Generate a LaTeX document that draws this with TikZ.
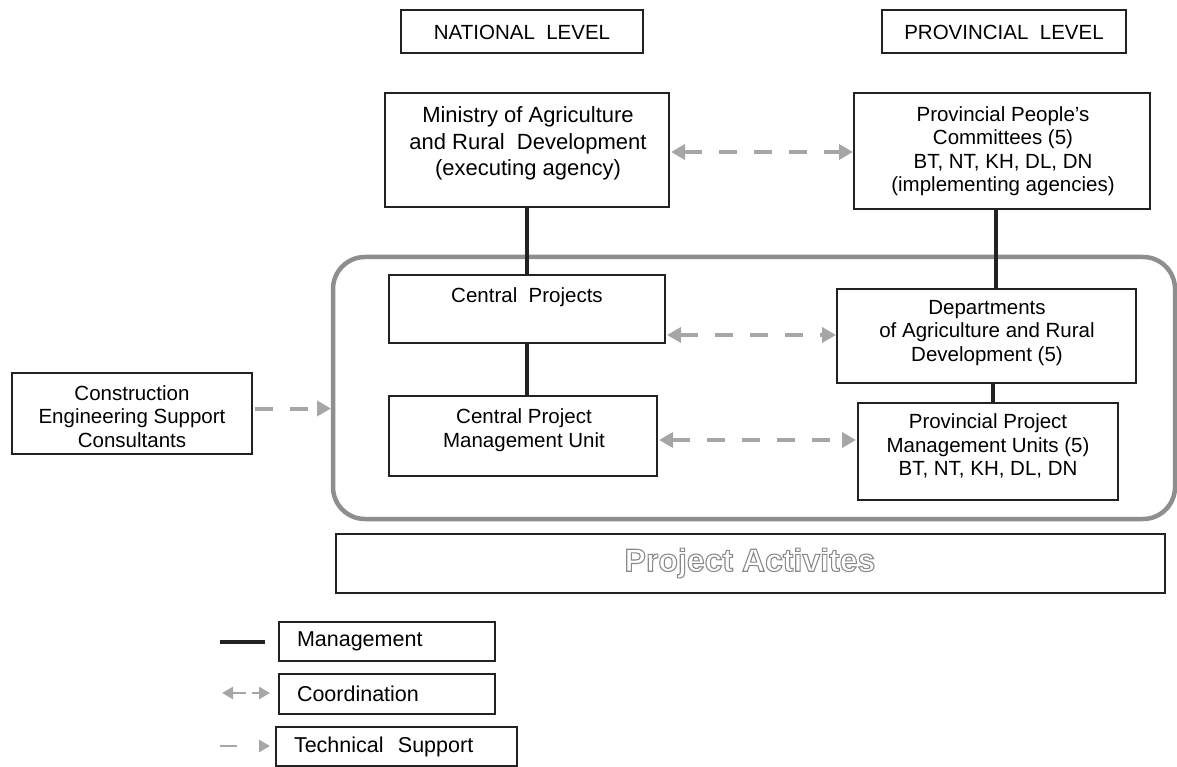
\documentclass[tikz,border=0pt]{standalone}
\usepackage{fontspec}
\setmainfont{Liberation Sans}
\usetikzlibrary{arrows.meta}
\definecolor{arrowgray}{HTML}{A6A6A6}
\definecolor{framegray}{HTML}{8E8E8E}
\definecolor{linek}{HTML}{222222}
\definecolor{outlinegray}{HTML}{8A8A8A}
\begin{document}
\begin{tikzpicture}[x=1pt,y=-1pt,
  box/.style={draw=linek,line width=1.4pt,inner sep=0pt,outer sep=0pt,fill=white},
  txt/.style={align=center,inner sep=0pt,font=\fontsize{20.5}{23.5}\selectfont},
  bigtxt/.style={align=center,inner sep=0pt,font=\fontsize{22}{26.5}\selectfont},
  legtxt/.style={box,align=left,inner xsep=18pt,font=\fontsize{21.5}{25}\selectfont},
  mgmt/.style={draw=linek,line width=4pt},
  coord/.style={draw=arrowgray,line width=4pt,dash pattern=on 18pt off 17pt,
    {Triangle[length=14pt,width=15pt]}-{Triangle[length=14pt,width=15pt]}},
  tech/.style={draw=arrowgray,line width=4pt,dash pattern=on 18pt off 17pt,
    -{Triangle[length=14pt,width=15pt]}}
]
\useasboundingbox (0,0) rectangle (1177,767);

% frame of project activities
\node[draw=framegray,line width=4.5pt,rounded corners=32pt,inner sep=0pt,outer sep=0pt,
  minimum width=842pt,minimum height=262pt] (frame) at (754,388) {};

% level headers
\node[box,minimum width=242pt,minimum height=43pt] (natl) at (522,31.5) {};
\node[txt] (natlt) at (522,32) {NATIONAL\ \ LEVEL};
\node[box,minimum width=244pt,minimum height=43pt] (provl) at (1004,31.5) {};
\node[txt] (provlt) at (1004,32) {PROVINCIAL\ \ LEVEL};

% national side
\node[box,minimum width=284pt,minimum height=114pt] (min) at (527,150) {};
\node[bigtxt] (mint) at (528,143.5) {Ministry of Agriculture\\and Rural\ \ Development\\(executing agency)};
\node[box,minimum width=276pt,minimum height=68pt] (cp) at (527,309) {};
\node[txt] (cpt) at (527,297) {Central\ \ Projects};
\node[box,minimum width=268pt,minimum height=80pt] (cpmu) at (523,436) {};
\node[txt] (cpmut) at (524,430) {Central Project\\Management Unit};

% provincial side
\node[box,minimum width=296pt,minimum height=116pt] (ppc) at (1002,151) {};
\node[txt] (ppct) at (1003,151) {Provincial People's\\Committees (5)\\BT, NT, KH, DL, DN\\(implementing agencies)};
\node[box,minimum width=299pt,minimum height=94pt] (dept) at (986.5,336) {};
\node[txt] (deptt) at (987,333) {Departments\\of Agriculture and Rural\\Development (5)};
\node[box,minimum width=260pt,minimum height=97pt] (ppmu) at (988,451.5) {};
\node[txt] (ppmut) at (988,446) {Provincial Project\\Management Units (5)\\BT, NT, KH, DL, DN};

% consultants
\node[box,minimum width=240pt,minimum height=81pt] (cons) at (132,413.5) {};
\node[txt] (const) at (132,416.5) {Construction\\Engineering Support\\Consultants};

% project activities
\node[box,minimum width=829pt,minimum height=59pt] (act) at (750.5,563.5) {};
\node[inner sep=0pt,text=outlinegray,font=\fontsize{32}{34}\selectfont\bfseries] (actt) at (750,563)
  {\special{pdf:literal direct 1 Tr 1.1 w}Project Activites\special{pdf:literal direct 0 Tr}};

% management lines
\draw[mgmt] (min.south) -- (cp.north);
\draw[mgmt] (cp.south) -- (cp.south |- cpmu.north);
\draw[mgmt] ([xshift=-6pt]ppc.south) -- ([xshift=-6pt]ppc.south |- dept.north);
\draw[mgmt] ([xshift=6pt]dept.south) -- ([xshift=6pt]dept.south |- ppmu.north);

% coordination
\draw[coord,shorten <=2pt,shorten >=1pt] ([yshift=-2pt]min.east) -- ([yshift=-2pt]min.east -| ppc.west);
\draw[coord,shorten <=2pt,shorten >=1pt] ([yshift=-26pt]cp.east) -- ([yshift=-26pt]cp.east -| dept.west);
\draw[coord,shorten <=2pt,shorten >=2pt] ([yshift=-4pt]cpmu.east) -- ([yshift=-4pt]cpmu.east -| ppmu.west);

% technical support
\draw[tech,shorten <=3pt,shorten >=2pt] ([yshift=5pt]cons.east) -- ([yshift=5pt]cons.east -| frame.west);

% legend
\node[legtxt,text width=180pt,minimum height=39pt,anchor=north west] (lm) at (279,622) {Management};
\node[legtxt,text width=180pt,minimum height=40pt,anchor=north west] (lc) at (279,674) {Coordination};
\node[legtxt,text width=205pt,minimum height=39pt,anchor=north west] (lt) at (276,727) {Technical\ \ Support};
\coordinate (lm1) at (220,642);
\coordinate (lm2) at (265,642);
\draw[mgmt,line width=3.5pt] (lm1) -- (lm2);
\coordinate (lc1) at (222,693);
\coordinate (lc2) at (270,693);
\draw[draw=arrowgray,line width=2.5pt,dash pattern=on 14pt off 6pt,
  {Triangle[length=11pt,width=12pt]}-{Triangle[length=11pt,width=12pt]}] (lc1) -- (lc2);
\coordinate (lt1) at (220,746);
\coordinate (lt2) at (270,746);
\draw[draw=arrowgray,line width=2.5pt,dash pattern=on 17pt off 40pt,
  -{Triangle[length=11pt,width=12pt]}] (lt1) -- (lt2);
\end{tikzpicture}
\end{document}
